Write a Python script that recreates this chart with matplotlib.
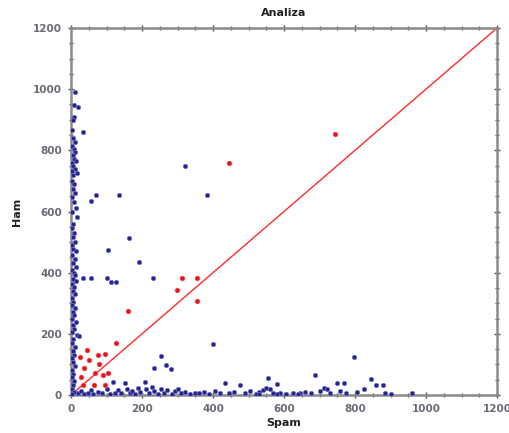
import matplotlib
matplotlib.use("Agg")
import matplotlib.pyplot as plt
from matplotlib.ticker import MultipleLocator

# ---- data (Spam, Ham) ----
blue_left_x = [11, 8, 20, 9, 7, 34, 4, 6, 10, 3, 8, 12, 5, 9, 14, 2, 7, 11, 4, 16, 6, 3, 9, 5, 11, 2, 8, 13,
               17, 4, 6, 3, 9, 5, 12, 2, 7, 15, 4, 10, 6, 13, 3, 8, 11, 5, 14, 2, 9, 6, 12, 4, 7, 3, 10, 5,
               8, 2, 13, 6, 9, 4, 16, 23, 7, 3, 11, 5, 8, 2, 6, 10, 4, 7, 3, 9, 5, 2, 8, 4]
blue_left_y = [990, 948, 941, 909, 899, 860, 866, 840, 828, 815, 805, 795, 785, 772, 765, 758, 748, 740, 732,
               725, 718, 700, 690, 675, 660, 648, 630, 611, 582, 600, 560, 545, 530, 515, 500, 490, 478, 470,
               458, 445, 432, 420, 410, 400, 392, 380, 372, 362, 352, 340, 330, 318, 305, 295, 285, 272, 260,
               250, 240, 228, 215, 205, 196, 193, 182, 170, 158, 145, 132, 120, 108, 95, 82, 70, 58, 45, 32,
               20, 10, 3]

blue_bottom_x = [20, 28, 38, 47, 55, 62, 75, 88, 100, 110, 119, 125, 132, 140, 152, 158, 165, 172, 180, 188,
                 195, 208, 212, 220, 228, 235, 245, 253, 262, 270, 285, 292, 300, 310, 322, 335, 348, 360,
                 375, 390, 405, 420, 434, 445, 460, 476, 490, 505, 520, 530, 541, 548, 555, 560, 568, 581,
                 590, 605, 625, 645, 660, 675, 687, 700, 712, 721, 730, 750, 757, 769, 775, 797, 805, 825,
                 845, 859, 879, 885, 900, 960, 640, 580, 530]
blue_bottom_y = [5, 12, 3, 8, 15, 4, 10, 6, 18, 3, 42, 8, 15, 5, 40, 20, 8, 14, 3, 22, 10, 42, 18, 5, 25,
                 12, 3, 18, 8, 15, 4, 12, 20, 6, 10, 3, 8, 5, 10, 4, 12, 6, 40, 5, 10, 32, 6, 12, 4, 10, 16,
                 24, 56, 18, 8, 36, 6, 4, 8, 5, 10, 6, 65, 12, 22, 20, 8, 40, 12, 40, 6, 124, 10, 20, 52, 33,
                 33, 7, 4, 6, 3, 3, 2]

blue_other_x = [321, 383, 135, 70, 56, 163, 104, 192, 34, 56, 101, 113, 127, 230, 400, 253, 267, 281, 234]
blue_other_y = [748, 654, 654, 654, 634, 513, 474, 435, 382, 382, 382, 370, 370, 382, 166, 128, 98, 84, 89]

red_x = [745, 445, 355, 313, 299, 355, 161, 127, 26, 44, 51, 75, 96, 36, 80, 28, 68, 89, 105, 34, 66, 95]
red_y = [853, 758, 382, 382, 343, 307, 275, 170, 124, 147, 114, 131, 134, 88, 101, 59, 72, 65, 72, 33, 33, 33]

line_x = [0, 1200]
line_y = [0, 1200]

blue_x = blue_left_x + blue_bottom_x + blue_other_x
blue_y = blue_left_y + blue_bottom_y + blue_other_y

# ---- figure ----
fig = plt.figure(figsize=(5.09, 4.33), dpi=100)
ax = fig.add_axes([71 / 509, 1 - 395 / 433, 426 / 509, 367 / 433])

ax.scatter(blue_x, blue_y, s=10, color="#23238f", edgecolors="#7070c4", linewidths=0.5, zorder=3)
ax.scatter(red_x, red_y, s=12, color="#e8101a", edgecolors="#f06060", linewidths=0.4, zorder=4)
ax.plot(line_x, line_y, color="#ff2a2a", lw=1.0, zorder=2)

ax.set_xlim(0, 1200)
ax.set_ylim(0, 1200)
ax.xaxis.set_major_locator(MultipleLocator(200))
ax.yaxis.set_major_locator(MultipleLocator(200))
ax.xaxis.set_minor_locator(MultipleLocator(50))
ax.yaxis.set_minor_locator(MultipleLocator(50))

for s in ax.spines.values():
    s.set_color("#8a8a8a")
    s.set_linewidth(1.8)

ax.tick_params(which="both", direction="inout", top=True, right=True, color="#555555",
               labelcolor="#6a6a78", labelsize=7.5, width=1)
ax.tick_params(which="major", length=5, pad=4)
ax.tick_params(which="minor", length=3)
for lab in ax.get_xticklabels() + ax.get_yticklabels():
    lab.set_fontweight("bold")

ax.set_title("Analiza", fontsize=8, fontweight="bold", color="#222222", pad=9)
ax.set_xlabel("Spam", fontsize=8, fontweight="bold", color="#222222", labelpad=3)
ax.set_ylabel("Ham", fontsize=8, fontweight="bold", color="#222222", labelpad=8)

fig.savefig("out.png", dpi=100, facecolor="white")
